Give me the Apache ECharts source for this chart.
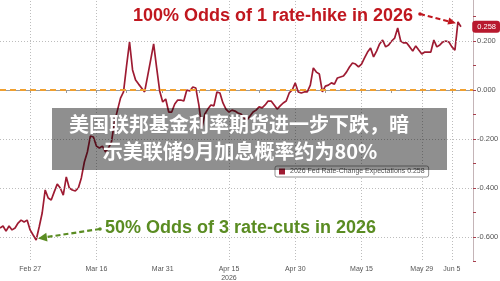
<!DOCTYPE html>
<html>
<head>
<meta charset="utf-8">
<script src="https://cdn.jsdelivr.net/npm/echarts@6/dist/echarts.min.js"></script>
<style>
  html, body { margin: 0; padding: 0; background: #fff; }
  #chart { width: 500px; height: 281px; }
</style>
</head>
<body>
<div id="chart"></div>
<script>
// trading days on the x axis, weekdays Feb 20 - Jun 10 2026
const monthNames = ['Jan', 'Feb', 'Mar', 'Apr', 'May', 'Jun', 'Jul', 'Aug', 'Sep', 'Oct', 'Nov', 'Dec'];
const tradingDays = [];
for (let d = new Date(2026, 1, 20); d <= new Date(2026, 5, 10); d.setDate(d.getDate() + 1)) {
  if (d.getDay() !== 0 && d.getDay() !== 6) tradingDays.push(monthNames[d.getMonth()] + ' ' + d.getDate());
}
// two readings a day (am / pm)
const categories = [];
tradingDays.forEach(d => { categories.push(d + '|am'); categories.push(d + '|pm'); });

const labelDays = ['Feb 27', 'Mar 16', 'Mar 31', 'Apr 15', 'Apr 30', 'May 15', 'May 29', 'Jun 5'];
const tickDays = ['Feb 27', 'Mar 9', 'Mar 16', 'Mar 23', 'Mar 31', 'Apr 8', 'Apr 15', 'Apr 22', 'Apr 30',
  'May 7', 'May 15', 'May 22', 'May 29', 'Jun 5'];
const gridDays = ['Feb 27', 'Mar 16', 'Apr 15', 'Apr 30', 'May 15', 'May 29', 'Jun 5'];
const yGridValues = [0.4, 0.2, -0.2, -0.4, -0.6];

// 2026 Fed rate-change expectations
const rateChange = [
  -0.563, -0.555, -0.576, -0.555, -0.571, -0.563, -0.543, -0.531, -0.539, -0.531,
  -0.571, -0.592, -0.612, -0.559, -0.502, -0.408, -0.441, -0.449, -0.416, -0.384,
  -0.400, -0.429, -0.355, -0.400, -0.408, -0.412, -0.400, -0.359, -0.294, -0.253,
  -0.188, -0.192, -0.229, -0.237, -0.229, -0.253, -0.237, -0.212, -0.131, -0.082,
  -0.033, -0.008, 0.098, 0.196, 0.082, 0.041, 0.024, 0.008, -0.008, 0.057,
  0.122, 0.188, 0.090, -0.004, -0.049, -0.037, -0.090, -0.090, -0.057, -0.041,
  -0.041, -0.045, 0.000, -0.004, 0.012, 0.008, -0.061, -0.155, -0.098, -0.078,
  -0.061, -0.065, -0.008, -0.012, -0.053, -0.078, -0.090, -0.082, -0.086, -0.094,
  -0.098, -0.114, -0.122, -0.106, -0.090, -0.082, -0.069, -0.073, -0.061, -0.045,
  -0.045, -0.061, -0.078, -0.065, -0.053, -0.045, -0.012, 0.000, 0.029, -0.008,
  -0.012, -0.008, -0.008, 0.020, 0.090, 0.073, 0.065, -0.008, 0.016, 0.020,
  0.029, 0.024, 0.049, 0.053, 0.057, 0.073, 0.094, 0.110, 0.106, 0.094,
  0.106, 0.131, 0.155, 0.171, 0.135, 0.159, 0.188, 0.204, 0.176, 0.184,
  0.200, 0.212, 0.253, 0.200, 0.192, 0.192, 0.176, 0.159, 0.180, 0.163,
  0.147, 0.155, 0.155, 0.155, 0.204, 0.176, 0.184, 0.196, 0.200, 0.196,
  0.176, 0.163, 0.278, 0.258
];
const lastValue = rateChange[rateChange.length - 1];
const seriesName = '2026 Fed Rate-Change Expectations ' + lastValue.toFixed(3);

const dayOf = v => v.split('|')[0];
const isAm = v => v.endsWith('|am');

const red = '#c0171f';
const green = '#5a8c22';

const chart = echarts.init(document.getElementById('chart'));

const option = {
  backgroundColor: '#fff',
  animation: false,
  grid: { left: 0, right: 27, top: -8, bottom: 19.5, outerBoundsMode: 'none' },
  legend: {
    left: 275, top: 166,
    padding: [2, 4],
    itemWidth: 6, itemHeight: 6, icon: 'rect',
    backgroundColor: '#fff',
    borderColor: '#777', borderWidth: 0.8, borderRadius: 2,
    textStyle: { fontSize: 7, color: '#555', fontFamily: 'Liberation Sans' },
    data: [seriesName]
  },
  xAxis: {
    type: 'category',
    data: categories,
    boundaryGap: false,
    axisLine: { lineStyle: { color: '#9a9a9a' } },
    axisTick: {
      interval: (i, v) => isAm(v) && tickDays.includes(dayOf(v)),
      length: 3,
      lineStyle: { color: '#999' }
    },
    axisLabel: {
      interval: (i, v) => isAm(v) && labelDays.includes(dayOf(v)),
      formatter: v => dayOf(v) === 'Apr 15' ? 'Apr 15\n2026' : dayOf(v),
      fontSize: 7, color: '#555', margin: 3, lineHeight: 9,
      fontFamily: 'Liberation Sans'
    },
    splitLine: {
      show: true,
      interval: (i, v) => isAm(v) && gridDays.includes(dayOf(v)),
      lineStyle: { color: '#bdbdbd', type: [1, 2] }
    }
  },
  yAxis: {
    type: 'value',
    position: 'right',
    min: -0.7, max: 0.4, interval: 0.1,
    axisLine: { show: true, lineStyle: { color: '#c4b4b7' } },
    axisTick: { show: true, length: 3, lineStyle: { color: '#a8404e' } },
    axisLabel: {
      fontSize: 7.5, color: '#555', margin: 4, fontFamily: 'Liberation Sans',
      formatter: v => {
        const k = Math.round(v * 10);
        return k % 2 === 0 ? (k / 10).toFixed(3) : '';
      }
    },
    splitLine: { show: false },
    axisPointer: {
      show: true,
      value: lastValue,
      status: 'show',
      triggerTooltip: false,
      lineStyle: { color: 'rgba(0,0,0,0)' },
      label: {
        show: true,
        formatter: () => lastValue.toFixed(3),
        backgroundColor: '#b8192e',
        color: '#fff',
        fontSize: 7.5,
        fontFamily: 'Liberation Sans',
        padding: [2, 4, 2, 5],
        margin: 2
      }
    }
  },
  series: [{
    name: seriesName,
    type: 'line',
    data: rateChange,
    showSymbol: false,
    color: '#9e1b32',
    lineStyle: { width: 1.7, color: '#9e1b32' },
    markLine: {
      silent: true,
      symbol: 'none',
      label: { show: false },
      data: yGridValues.map(v => ({ yAxis: v, lineStyle: { color: '#bdbdbd', type: [1, 2], width: 1 } }))
        .concat([{ yAxis: 0, lineStyle: { color: '#f0a030', type: [6, 4], width: 2 } }])
    }
  }],
  graphic: [
    // top annotation
    { type: 'text', x: 133, y: 16.5, z: 50,
      style: { text: '100% Odds of 1 rate-hike in 2026', fill: red, font: 'bold 18px "Liberation Sans", Arial', textVerticalAlign: 'middle' } },
    { type: 'circle', shape: { cx: 420, cy: 14, r: 1.8 }, style: { fill: red }, z: 50 },
    { type: 'line', shape: { x1: 420, y1: 14, x2: 449, y2: 21.5 }, style: { stroke: red, lineWidth: 2.2, lineDash: [5, 3] }, z: 50 },
    { type: 'polygon', shape: { points: [[456, 23.2], [447.4, 24.6], [449.3, 17.4]] }, style: { fill: red }, z: 50 },
    // bottom annotation
    { type: 'text', x: 105, y: 228, z: 50,
      style: { text: '50% Odds of 3 rate-cuts in 2026', fill: green, font: 'bold 18px "Liberation Sans", Arial', textVerticalAlign: 'middle' } },
    { type: 'circle', shape: { cx: 100, cy: 229, r: 1.8 }, style: { fill: green }, z: 50 },
    { type: 'line', shape: { x1: 100, y1: 229, x2: 47, y2: 237 }, style: { stroke: green, lineWidth: 2.2, lineDash: [5, 3] }, z: 50 },
    { type: 'polygon', shape: { points: [[38, 238.5], [47.5, 241.4], [46.3, 232.8]] }, style: { fill: green }, z: 50 },
    // news caption banner
    { type: 'rect', shape: { x: 52, y: 108, width: 395, height: 62 }, style: { fill: 'rgba(0,0,0,0.44)' }, z: 60 },
    { type: 'text', x: 239, y: 124, z: 61,
      style: { text: '美国联邦基金利率期货进一步下跌，暗', fill: '#fff', font: 'bold 20px "Noto Sans CJK SC"', textAlign: 'center', textVerticalAlign: 'middle' } },
    { type: 'text', x: 240, y: 151, z: 61,
      style: { text: '示美联储9月加息概率约为80%', fill: '#fff', font: 'bold 20px "Noto Sans CJK SC"', textAlign: 'center', textVerticalAlign: 'middle' } }
  ]
};

chart.setOption(option);
</script>
</body>
</html>
